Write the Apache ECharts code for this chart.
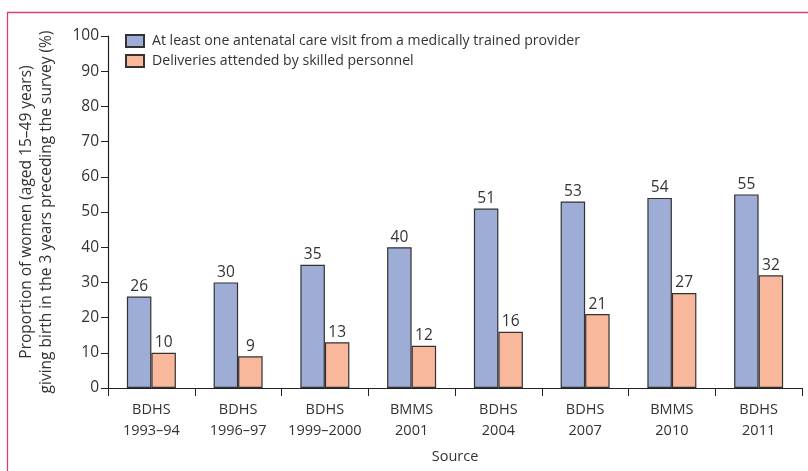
<!DOCTYPE html>
<html><head><meta charset="utf-8">
<script src="https://cdn.jsdelivr.net/npm/echarts@6/dist/echarts.min.js"></script>
<style>html,body{margin:0;padding:0;background:#fff}#c{width:808px;height:471px}</style>
</head><body><div id="c"></div>
<script>
const categories = ['BDHS\n1993–94','BDHS\n1996–97','BDHS\n1999–2000','BMMS\n2001','BDHS\n2004','BDHS\n2007','BMMS\n2010','BDHS\n2011'];
const antenatal = [26,30,35,40,51,53,54,55];
const skilled = [10,9,13,12,16,21,27,32];
const seriesNames = ['At least one antenatal care visit from a medically trained provider','Deliveries attended by skilled personnel'];
const yTicks = {min:0,max:100,interval:10};

const font = 'Open Sans';
const txt = '#333';
const chart = echarts.init(document.getElementById('c'), null, {renderer:'canvas'});
const labelCfg = {show:true, position:'top', distance:2, color:txt, fontFamily:font, fontSize:15.5};
chart.setOption({
  animation:false,
  textStyle:{fontFamily:font},
  graphic:[{type:'rect', shape:{x:7.5,y:12.5,width:900,height:600}, style:{fill:'none',stroke:'#d6406e',lineWidth:1.3}, z:-1}],
  legend:{left:120, top:29, orient:'vertical', itemWidth:18, itemHeight:12, itemGap:6,
    textStyle:{color:txt,fontSize:14.1,fontFamily:font,lineHeight:14,padding:[0,0,0,3]}, icon:'rect', data:seriesNames},
  grid:{left:108, right:6, top:36, bottom:83, containLabel:false, outerBoundsMode:'none'},
  xAxis:{type:'category', data:categories,
    axisLine:{lineStyle:{color:'#222',width:1.2}},
    axisTick:{show:true, length:8, alignWithLabel:false, lineStyle:{color:'#222'}},
    axisLabel:{interval:0,color:txt,fontSize:14.5,fontFamily:font,lineHeight:21,margin:11},
    name:'Source', nameLocation:'middle', nameGap:61, nameTextStyle:{color:txt,fontSize:14.5,fontFamily:font}},
  yAxis:{type:'value', min:yTicks.min, max:yTicks.max, interval:yTicks.interval,
    axisLine:{show:true,lineStyle:{color:'#222',width:1.2}},
    axisTick:{show:true,length:7,lineStyle:{color:'#222'}},
    splitLine:{show:false},
    axisLabel:{color:txt,fontSize:15.5,fontFamily:font,margin:9},
    name:'Proportion of women (aged 15–49 years)\ngiving birth in the 3 years preceding the survey (%)',
    nameLocation:'middle', nameGap:51, nameRotate:90,
    nameTextStyle:{color:txt,fontSize:15.5,fontFamily:font,lineHeight:20,align:'center'}},
  series:[
    {name:seriesNames[0], type:'bar', data:antenatal, barWidth:24.5, barGap:'0%',
     itemStyle:{color:'#9eadd5',borderColor:'#333',borderWidth:1.2}, label:labelCfg},
    {name:seriesNames[1], type:'bar', data:skilled, barWidth:24.5, barGap:'0%',
     itemStyle:{color:'#f9b79b',borderColor:'#333',borderWidth:1.2}, label:labelCfg}
  ]
});
</script></body></html>
